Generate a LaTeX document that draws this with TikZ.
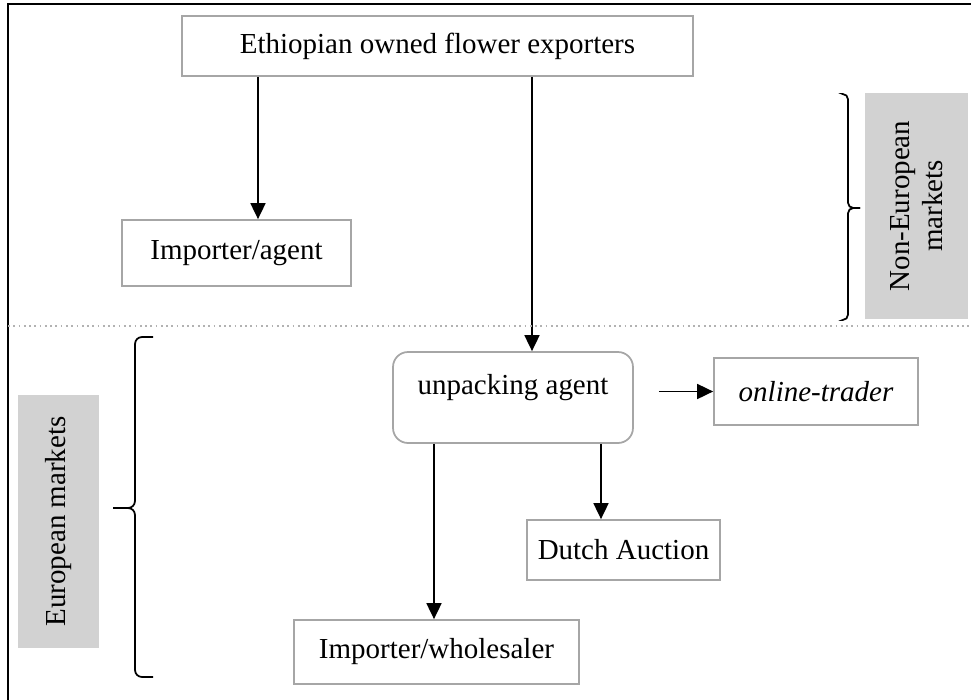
\documentclass[tikz,border=0pt]{standalone}
\usepackage{fontspec}
\setmainfont{Liberation Serif}
\usetikzlibrary{arrows.meta}

\begin{document}
\begin{tikzpicture}[x=0.02cm,y=-0.02cm,
        box/.style={draw=gray!70,line width=1pt,inner sep=0pt,font=\fontsize{16.5}{20}\selectfont},
        side/.style={fill=gray!35,rotate=90,align=center,inner sep=0pt,font=\fontsize{16.5}{19}\selectfont},
        arr/.style={-{Triangle[length=0.32cm,width=0.3cm]},line width=1pt}]
        \useasboundingbox (0,0) rectangle (971,700);

        \node[box,minimum width=10.22cm,minimum height=1.2cm] (EX) at (437.5,46) {Ethiopian owned flower exporters};
        \node[box,minimum width=4.58cm,minimum height=1.32cm] (IA) at (236.5,253) {Importer/agent};
        \node[box,rounded corners=0.3cm,minimum width=4.8cm,minimum height=1.82cm,text depth=0.53cm] (UA) at (513,397.5) {unpacking agent};
        \node[box,minimum width=4.08cm,minimum height=1.34cm] (OT) at (816,391.5) {\itshape online-trader};
        \node[box,minimum width=3.86cm,minimum height=1.2cm] (DA) at (623.5,550) {Dutch Auction};
        \node[box,minimum width=5.7cm,minimum height=1.28cm] (IW) at (436.5,652) {Importer/wholesaler};

        \node[side,minimum width=4.52cm,minimum height=2.06cm] (NE) at (916.5,206) {Non-European\\markets};
        \node[side,minimum width=5.06cm,minimum height=1.62cm] (EU) at (58.5,521.5) {European markets};

        \coordinate (x1) at (258,0);
        \coordinate (x2) at (532,0);
        \coordinate (x3) at (601,0);
        \coordinate (x4) at (434,0);

        \draw[arr] (EX.south -| x1) -- (IA.north -| x1);
        \draw[arr] (EX.south -| x2) -- (UA.north -| x2);
        \draw[arr] ([xshift=0.5cm]UA.east |- OT.west) -- (OT.west);
        \draw[arr] (UA.south -| x3) -- (DA.north -| x3);
        \draw[arr] (UA.south -| x4) -- (IW.north -| x4);

        % frame and market split
        \draw[line width=1.4pt] (8,700) -- (8,4) -- (971,4);
        \draw[gray!60,dotted,line width=1pt] (8,326) -- (971,326);

        % braces
        \draw[line width=1pt,rounded corners=3pt] (843,94) -- (848,94) -- (848,208) -- (860,208);
        \draw[line width=1pt,rounded corners=3pt] (860,208) -- (848,208) -- (848,320) -- (843,320);
        \draw[line width=1pt,rounded corners=4pt] (153,337) -- (135,337) -- (135,508) -- (113,508);
        \draw[line width=1pt,rounded corners=4pt] (113,508) -- (135,508) -- (135,677) -- (153,677);
      \end{tikzpicture}
\end{document}
